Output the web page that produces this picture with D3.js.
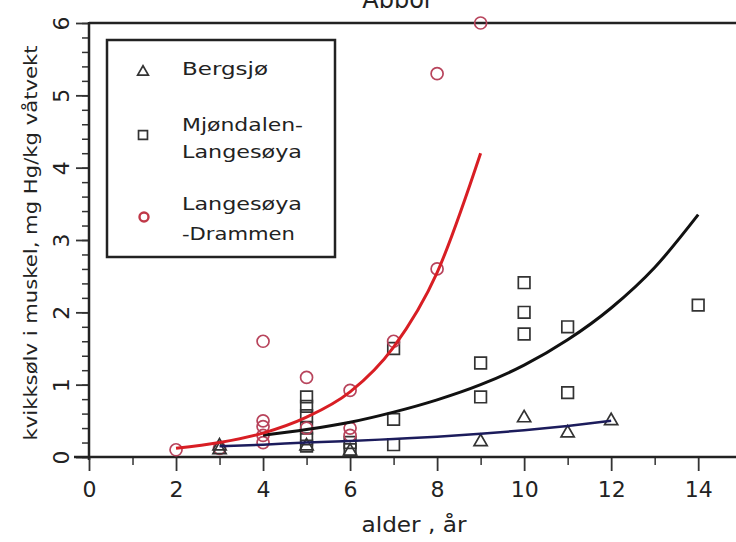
<!DOCTYPE html>
<html lang="no">
<head>
  <meta charset="UTF-8">
  <title>Abbor</title>
  <script src="https://d3js.org/d3.v7.min.js"></script>
  <style>
    body { margin: 0; background: white; }
    svg text { fill: #222; font-family: "DejaVu Sans", Verdana, sans-serif; }
  </style>
</head>
<body>
  <svg id="chart" width="736" height="542"></svg>

  <script>
    // målte verdier (alder i år, kvikksølv mg Hg/kg)
    const bergsjoAge = [3, 3, 5, 6, 9, 10, 11, 12];
    const bergsjoHg  = [0.15, 0.1, 0.15, 0.08, 0.21, 0.54, 0.33, 0.5];

    const mjondalenAge = [5, 5, 5, 5, 5, 5, 6, 6, 7, 7, 7, 9, 9, 10, 10, 10, 11, 11, 14];
    const mjondalenHg  = [0.83, 0.7, 0.57, 0.4, 0.25, 0.15, 0.2, 0.1, 1.5, 0.52, 0.17, 1.3, 0.83, 2.41, 2.0, 1.7, 1.8, 0.89, 2.1];

    const drammenAge = [2, 3, 4, 4, 4, 4, 4, 5, 5, 6, 6, 6, 7, 8, 8, 9];
    const drammenHg  = [0.1, 0.12, 1.6, 0.5, 0.42, 0.3, 0.2, 1.1, 0.4, 0.92, 0.4, 0.3, 1.6, 2.6, 5.3, 6.0];

    // tilpassede kurver
    const bergsjoFitAge = [3, 4, 5, 6, 7, 8, 9, 10, 11, 12];
    const bergsjoFitHg  = [0.15, 0.17, 0.2, 0.22, 0.25, 0.28, 0.32, 0.37, 0.43, 0.5];

    const mjondalenFitAge = [4, 5, 6, 7, 8, 9, 10, 11, 12, 13, 14];
    const mjondalenFitHg  = [0.3, 0.38, 0.48, 0.62, 0.79, 1.0, 1.27, 1.62, 2.06, 2.62, 3.35];

    const drammenFitAge = [2, 3, 4, 5, 6, 7, 8, 9];
    const drammenFitHg  = [0.12, 0.2, 0.33, 0.55, 0.9, 1.52, 2.55, 4.2];

    const xTicks = [0, 2, 4, 6, 8, 10, 12, 14];
    const yTicks = [0, 1, 2, 3, 4, 5, 6];

    const svg = d3.select("#chart");

    const x = d3.scaleLinear().domain([0, 14.8]).range([89, 733]);
    const y = d3.scaleLinear().domain([0, 6]).range([457, 23]);

    const zip = (a, b) => a.map((v, i) => [v, b[i]]);

    // title (cut off at the top in the original)
    svg.append("text")
      .attr("x", 398).attr("y", 8)
      .attr("text-anchor", "middle")
      .style("font-size", "24px")
      .text("Abbor");

    // top frame line
    svg.append("line")
      .attr("x1", x(0)).attr("x2", 736)
      .attr("y1", y(6)).attr("y2", y(6))
      .attr("stroke", "#222").attr("stroke-width", 2.5);

    // y axis: minor ticks every 0.2, major with rotated labels
    const yMinor = svg.append("g").attr("transform", `translate(${x(0)},0)`)
      .call(d3.axisLeft(y).tickValues(d3.range(0, 6.01, 0.2)).tickSize(7).tickFormat(""));
    yMinor.select(".domain").remove();
    yMinor.selectAll(".tick line").attr("stroke", "#333").attr("stroke-width", 1.5);

    const yMajor = svg.append("g").attr("transform", `translate(${x(0)},0)`)
      .call(d3.axisLeft(y).tickValues(yTicks).tickSize(13).tickFormat(d3.format("d")));
    yMajor.select(".domain").remove();
    yMajor.selectAll(".tick line").attr("stroke", "#333").attr("stroke-width", 1.8);
    yMajor.selectAll(".tick text")
      .attr("x", null).attr("dy", null)
      .attr("transform", "translate(-20,0) rotate(-90)")
      .attr("text-anchor", "middle")
      .attr("font-family", "DejaVu Sans, Verdana, sans-serif")
      .style("font-size", "22px")
      .attr("fill", "#222");

    svg.append("line")
      .attr("x1", x(0)).attr("x2", x(0))
      .attr("y1", y(0) + 3).attr("y2", y(6) - 1)
      .attr("stroke", "#222").attr("stroke-width", 2.5);

    // x axis
    const xMinor = svg.append("g").attr("transform", `translate(0,${y(0)})`)
      .call(d3.axisBottom(x).tickValues(d3.range(1, 15, 2)).tickSize(8).tickFormat(""));
    xMinor.select(".domain").remove();
    xMinor.selectAll(".tick line").attr("stroke", "#333").attr("stroke-width", 1.5);

    const xMajor = svg.append("g").attr("transform", `translate(0,${y(0)})`)
      .call(d3.axisBottom(x).tickValues(xTicks).tickSize(14).tickPadding(10).tickFormat(d3.format("d")));
    xMajor.select(".domain").remove();
    xMajor.selectAll(".tick line").attr("stroke", "#333").attr("stroke-width", 1.8);
    xMajor.selectAll(".tick text")
      .attr("font-family", "DejaVu Sans, Verdana, sans-serif")
      .style("font-size", "22px")
      .attr("fill", "#222");

    svg.append("line")
      .attr("x1", x(0) - 15).attr("x2", 736)
      .attr("y1", y(0)).attr("y2", y(0))
      .attr("stroke", "#222").attr("stroke-width", 2.5);

    // axis titles
    svg.append("text")
      .attr("x", 414).attr("y", 532)
      .attr("text-anchor", "middle")
      .style("font-size", "21px")
      .attr("textLength", 105).attr("lengthAdjust", "spacingAndGlyphs")
      .text("alder , år");

    svg.append("text")
      .attr("transform", `translate(37,${243}) rotate(-90)`)
      .attr("text-anchor", "middle")
      .style("font-size", "18px")
      .attr("textLength", 395).attr("lengthAdjust", "spacingAndGlyphs")
      .text("kvikksølv i muskel, mg Hg/kg våtvekt");

    // markers
    const tri = d3.symbol().type(d3.symbolTriangle).size(75);
    const sq = d3.symbol().type(d3.symbolSquare).size(135);

    svg.append("g").selectAll("path")
      .data(zip(mjondalenAge, mjondalenHg))
      .join("path")
      .attr("d", sq)
      .attr("transform", d => `translate(${x(d[0])},${y(d[1])})`)
      .attr("fill", "none").attr("stroke", "#333").attr("stroke-width", 1.7);

    svg.append("g").selectAll("circle")
      .data(zip(drammenAge, drammenHg))
      .join("circle")
      .attr("cx", d => x(d[0])).attr("cy", d => y(d[1]))
      .attr("r", 6)
      .attr("fill", "none").attr("stroke", "#b8445c").attr("stroke-width", 1.7);

    svg.append("g").selectAll("path")
      .data(zip(bergsjoAge, bergsjoHg))
      .join("path")
      .attr("d", tri)
      .attr("transform", d => `translate(${x(d[0])},${y(d[1])})`)
      .attr("fill", "none").attr("stroke", "#333").attr("stroke-width", 1.7);

    // fitted curves
    const line = d3.line().x(d => x(d[0])).y(d => y(d[1])).curve(d3.curveMonotoneX);

    svg.append("path")
      .datum(zip(bergsjoFitAge, bergsjoFitHg))
      .attr("d", line)
      .attr("fill", "none").attr("stroke", "#1c1c5c").attr("stroke-width", 2.5);

    svg.append("path")
      .datum(zip(mjondalenFitAge, mjondalenFitHg))
      .attr("d", line)
      .attr("fill", "none").attr("stroke", "#111").attr("stroke-width", 3);

    svg.append("path")
      .datum(zip(drammenFitAge, drammenFitHg))
      .attr("d", line)
      .attr("fill", "none").attr("stroke", "#d81e24").attr("stroke-width", 3);

    // legend
    const legend = svg.append("g");
    legend.append("rect")
      .attr("x", 107).attr("y", 40).attr("width", 228).attr("height", 217)
      .attr("fill", "white").attr("stroke", "#222").attr("stroke-width", 2.5);

    legend.append("path").attr("d", d3.symbol().type(d3.symbolTriangle).size(50))
      .attr("transform", "translate(143,72)")
      .attr("fill", "none").attr("stroke", "#333").attr("stroke-width", 1.7);
    legend.append("path").attr("d", d3.symbol().type(d3.symbolSquare).size(80))
      .attr("transform", "translate(143,135)")
      .attr("fill", "none").attr("stroke", "#333").attr("stroke-width", 1.7);
    legend.append("circle").attr("cx", 144).attr("cy", 217).attr("r", 4.5)
      .attr("fill", "none").attr("stroke", "#c03848").attr("stroke-width", 2.4);

    const legendLines = [
      ["Bergsjø", 75, 86],
      ["Mjøndalen-", 131, 121],
      ["Langesøya", 158, 120],
      ["Langesøya", 210, 120],
      ["-Drammen", 240, 113]
    ];
    legend.selectAll("text.lbl")
      .data(legendLines)
      .join("text")
      .attr("class", "lbl")
      .attr("x", 182).attr("y", d => d[1])
      .attr("textLength", d => d[2]).attr("lengthAdjust", "spacingAndGlyphs")
      .style("font-size", "18px")
      .text(d => d[0]);
  </script>
</body>
</html>
